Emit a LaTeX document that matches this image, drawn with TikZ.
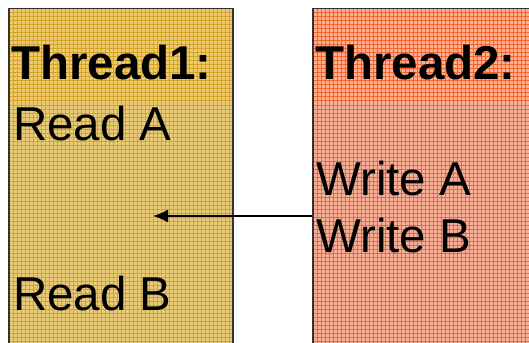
\documentclass[tikz,border=0pt]{standalone}
\usepackage{fontspec}
\setmainfont{Liberation Sans}
\usetikzlibrary{arrows.meta}
\definecolor{yellowfill}{HTML}{EACB78}
\definecolor{yellowgrid}{HTML}{D6A322}
\definecolor{redfill}{HTML}{FAB096}
\definecolor{redgrid}{HTML}{F2662E}
\tikzset{
  threadbox/.style n args={2}{draw = black!80, line width = 1.5pt, fill = #1, minimum width = 300pt, minimum height = 400pt, anchor = north west, inner sep = 0pt,
    path picture = {\foreach \g in {0,4,...,400} {\draw[#2, line width = 0.5pt] ([xshift=\g pt]path picture bounding box.north west) -- ([xshift=\g pt]path picture bounding box.south west); \draw[#2, line width = 0.5pt] ([yshift=-\g pt]path picture bounding box.north west) -- ([yshift=-\g pt]path picture bounding box.north east);}}},
  label/.style = {anchor = base west, inner sep = 0pt, font = \fontsize{47.5}{56}\selectfont}
}
\begin{document}
\begin{tikzpicture}[x=1pt, y=-1pt]
\useasboundingbox (0,0) rectangle (529,342);
\begin{scope}
\clip (0,0) rectangle (529,342);
\node[threadbox = {yellowfill}{yellowgrid}, minimum width = 224pt] (thread1) at (8,8) {};
\node[threadbox = {redfill}{redgrid}] (thread2) at (312,8) {};
\end{scope}
\node[label, font = \fontsize{47.5}{56}\selectfont\bfseries] (t1head) at (11,80) {Thread1:};
\node[label] (reada) at (13,140) {Read A};
\node[label] (readb) at (13,310) {Read B};
\node[label, font = \fontsize{47.5}{56}\selectfont\bfseries] (t2head) at (315,80) {Thread2:};
\node[label] (writea) at (316,195) {Write A};
\node[label] (writeb) at (316,252) {Write B};
% arrow from thread2 edge into thread1
\coordinate (from) at (thread2.west |- 0,216);
\coordinate (to) at (153,216);
\draw[line width = 1.8pt, -{Latex[length=15pt, width=13pt]}] (from) -- (to);
\end{tikzpicture}
\end{document}
